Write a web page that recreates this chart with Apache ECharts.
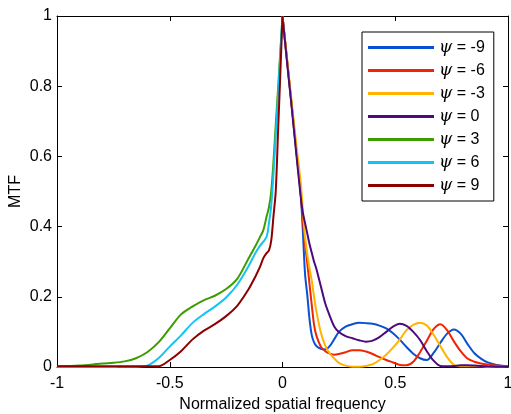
<!DOCTYPE html>
<html>
<head>
<meta charset="utf-8">
<script src="https://cdn.jsdelivr.net/npm/echarts@6/dist/echarts.min.js"></script>
<style>
  html, body { margin: 0; padding: 0; background: #fff; }
  #chart { width: 511px; height: 414px; }
</style>
</head>
<body>
<div id="chart"></div>
<script>
// Negative-frequency branch (curves for psi = 3, 6, 9)
const freqLeft = [-1, -0.9, -0.8, -0.75, -0.7, -0.65, -0.6, -0.55, -0.5, -0.45, -0.4, -0.35, -0.3,
  -0.25, -0.2, -0.15, -0.12, -0.1, -0.085, -0.07, -0.06, -0.05, -0.04, -0.03, -0.02, -0.01, 0];
const mtfPsi3 = [0.002, 0.004, 0.01, 0.012, 0.016, 0.025, 0.042, 0.07, 0.11, 0.15, 0.172, 0.19, 0.203,
  0.222, 0.252, 0.31, 0.345, 0.37, 0.39, 0.43, 0.455, 0.5, 0.585, 0.69, 0.79, 0.895, 1];
const mtfPsi6 = [0, 0, 0, 0, 0.001, 0.001, 0.004, 0.025, 0.058, 0.09, 0.125, 0.15, 0.172,
  0.198, 0.235, 0.288, 0.325, 0.345, 0.357, 0.372, 0.41, 0.46, 0.55, 0.66, 0.77, 0.885, 1];
const mtfPsi9 = [0.002, 0.002, 0.002, 0.002, 0.002, 0.002, 0.002, 0.002, 0.02, 0.045, 0.078, 0.103, 0.122,
  0.145, 0.175, 0.222, 0.258, 0.285, 0.31, 0.325, 0.332, 0.36, 0.43, 0.5, 0.665, 0.83, 1];

// Positive-frequency branch (curves for psi = -9, -6, -3, 0)
const freqRight = [0, 0.02, 0.04, 0.06, 0.08, 0.09, 0.1, 0.11, 0.12, 0.13, 0.14, 0.15, 0.17, 0.19,
  0.21, 0.23, 0.25, 0.28, 0.31, 0.34, 0.37, 0.4, 0.43, 0.46, 0.49, 0.52, 0.55, 0.58, 0.61, 0.64,
  0.67, 0.7, 0.73, 0.76, 0.79, 0.82, 0.85, 0.88, 0.91, 0.95, 1];
const mtfPsiM9 = [1, 0.875, 0.75, 0.625, 0.5, 0.39, 0.265, 0.205, 0.135, 0.09, 0.07, 0.06, 0.052, 0.05,
  0.06, 0.08, 0.1, 0.115, 0.122, 0.126, 0.125, 0.123, 0.118, 0.11, 0.096, 0.078, 0.057, 0.038, 0.025, 0.02,
  0.04, 0.069, 0.095, 0.107, 0.095, 0.066, 0.04, 0.024, 0.013, 0.006, 0.002];
const mtfPsiM6 = [1, 0.875, 0.75, 0.625, 0.5, 0.42, 0.35, 0.295, 0.235, 0.175, 0.12, 0.09, 0.058, 0.045,
  0.038, 0.035, 0.037, 0.042, 0.048, 0.048, 0.044, 0.037, 0.028, 0.02, 0.013, 0.006, 0.005, 0.015, 0.042, 0.075,
  0.108, 0.122, 0.105, 0.073, 0.045, 0.024, 0.015, 0.01, 0.007, 0.004, 0.002];
const mtfPsiM3 = [1, 0.88, 0.76, 0.64, 0.53, 0.45, 0.37, 0.32, 0.28, 0.245, 0.2, 0.16, 0.098, 0.06,
  0.038, 0.024, 0.012, 0.004, 0.001, 0.001, 0.003, 0.008, 0.02, 0.035, 0.055, 0.078, 0.105, 0.12, 0.126, 0.118,
  0.092, 0.06, 0.028, 0.006, 0.002, 0.002, 0.002, 0.002, 0.001, 0.001, 0];
const mtfPsi0 = [1, 0.87, 0.745, 0.615, 0.49, 0.44, 0.41, 0.38, 0.35, 0.325, 0.3, 0.28, 0.23, 0.18,
  0.145, 0.115, 0.1, 0.088, 0.082, 0.076, 0.072, 0.075, 0.085, 0.1, 0.115, 0.123, 0.117, 0.1, 0.077, 0.045,
  0.018, 0.003, 0.002, 0.003, 0.005, 0.005, 0.004, 0.003, 0.002, 0.001, 0];

const psiLabels = ['-9', '-6', '-3', '0', '3', '6', '9'];
const xTicks = [-1, -0.5, 0, 0.5, 1];

const curves = [
  { psi: '-9', freq: freqRight, mtf: mtfPsiM9, color: '#0a50d2' },
  { psi: '-6', freq: freqRight, mtf: mtfPsiM6, color: '#f02400' },
  { psi: '-3', freq: freqRight, mtf: mtfPsiM3, color: '#ffb400' },
  { psi: '0',  freq: freqRight, mtf: mtfPsi0,  color: '#4b0a7d' },
  { psi: '3',  freq: freqLeft,  mtf: mtfPsi3,  color: '#3c9c00' },
  { psi: '6',  freq: freqLeft,  mtf: mtfPsi6,  color: '#12c4f5' },
  { psi: '9',  freq: freqLeft,  mtf: mtfPsi9,  color: '#8c0000' }
];

const font = 'Liberation Sans, Arial, sans-serif';
const chart = echarts.init(document.getElementById('chart'), null, { renderer: 'canvas' });

const axisCommon = () => ({
  axisLine: { show: true, onZero: false, lineStyle: { color: '#000', width: 1 } },
  axisTick: { show: true, inside: true, length: 5, lineStyle: { color: '#000' } },
  splitLine: { show: false }
});

chart.setOption({
  animation: false,
  backgroundColor: '#fff',
  grid: { left: 57, right: 3, top: 16, bottom: 47, show: false, containLabel: false, outerBoundsMode: 'none' },
  xAxis: [
    Object.assign({
      type: 'value', min: -1, max: 1, interval: 0.5, position: 'bottom',
      name: 'Normalized spatial frequency', nameLocation: 'middle', nameGap: 29,
      nameTextStyle: { fontFamily: font, fontSize: 16, color: '#000' },
      axisLabel: { fontFamily: font, fontSize: 16, color: '#000', margin: 9,
        formatter: v => xTicks.includes(v) ? String(v) : '' }
    }, axisCommon()),
    Object.assign({
      type: 'value', min: -1, max: 1, interval: 0.5, position: 'top',
      axisLabel: { show: false }
    }, axisCommon())
  ],
  yAxis: [
    Object.assign({
      type: 'value', min: 0, max: 1, interval: 0.2, position: 'left',
      name: 'MTF', nameLocation: 'middle', nameGap: 33, nameRotate: 90,
      nameMoveOverlap: false,
      nameTextStyle: { fontFamily: font, fontSize: 16, color: '#000' },
      axisLabel: { fontFamily: font, fontSize: 16, color: '#000', margin: 5 }
    }, axisCommon()),
    Object.assign({
      type: 'value', min: 0, max: 1, interval: 0.2, position: 'right',
      axisLabel: { show: false }
    }, axisCommon())
  ],
  legend: {
    orient: 'vertical',
    left: 362, top: 32,
    padding: [7, 9, 7, 6],
    itemWidth: 66, itemHeight: 3, itemGap: 6,
    icon: 'rect',
    backgroundColor: '#fff',
    borderColor: '#000', borderWidth: 1, borderRadius: 0,
    data: psiLabels.map(p => 'ψ = ' + p),
    formatter: name => '{psi|ψ}{t|' + name.slice(1) + '}',
    textStyle: {
      color: '#000',
      rich: {
        psi: { fontFamily: 'DejaVu Serif, serif', fontStyle: 'italic', fontSize: 17, color: '#000' },
        t: { fontFamily: font, fontSize: 16, color: '#000' }
      }
    }
  },
  series: curves.map(c => ({
    name: 'ψ = ' + c.psi,
    type: 'line',
    xAxisIndex: 0, yAxisIndex: 0,
    data: c.freq.map((f, i) => [f, c.mtf[i]]),
    showSymbol: false, symbol: 'none',
    smooth: 0.3,
    color: c.color,
    lineStyle: { color: c.color, width: 2 },
    itemStyle: { color: c.color }
  }))
});
</script>
</body>
</html>
